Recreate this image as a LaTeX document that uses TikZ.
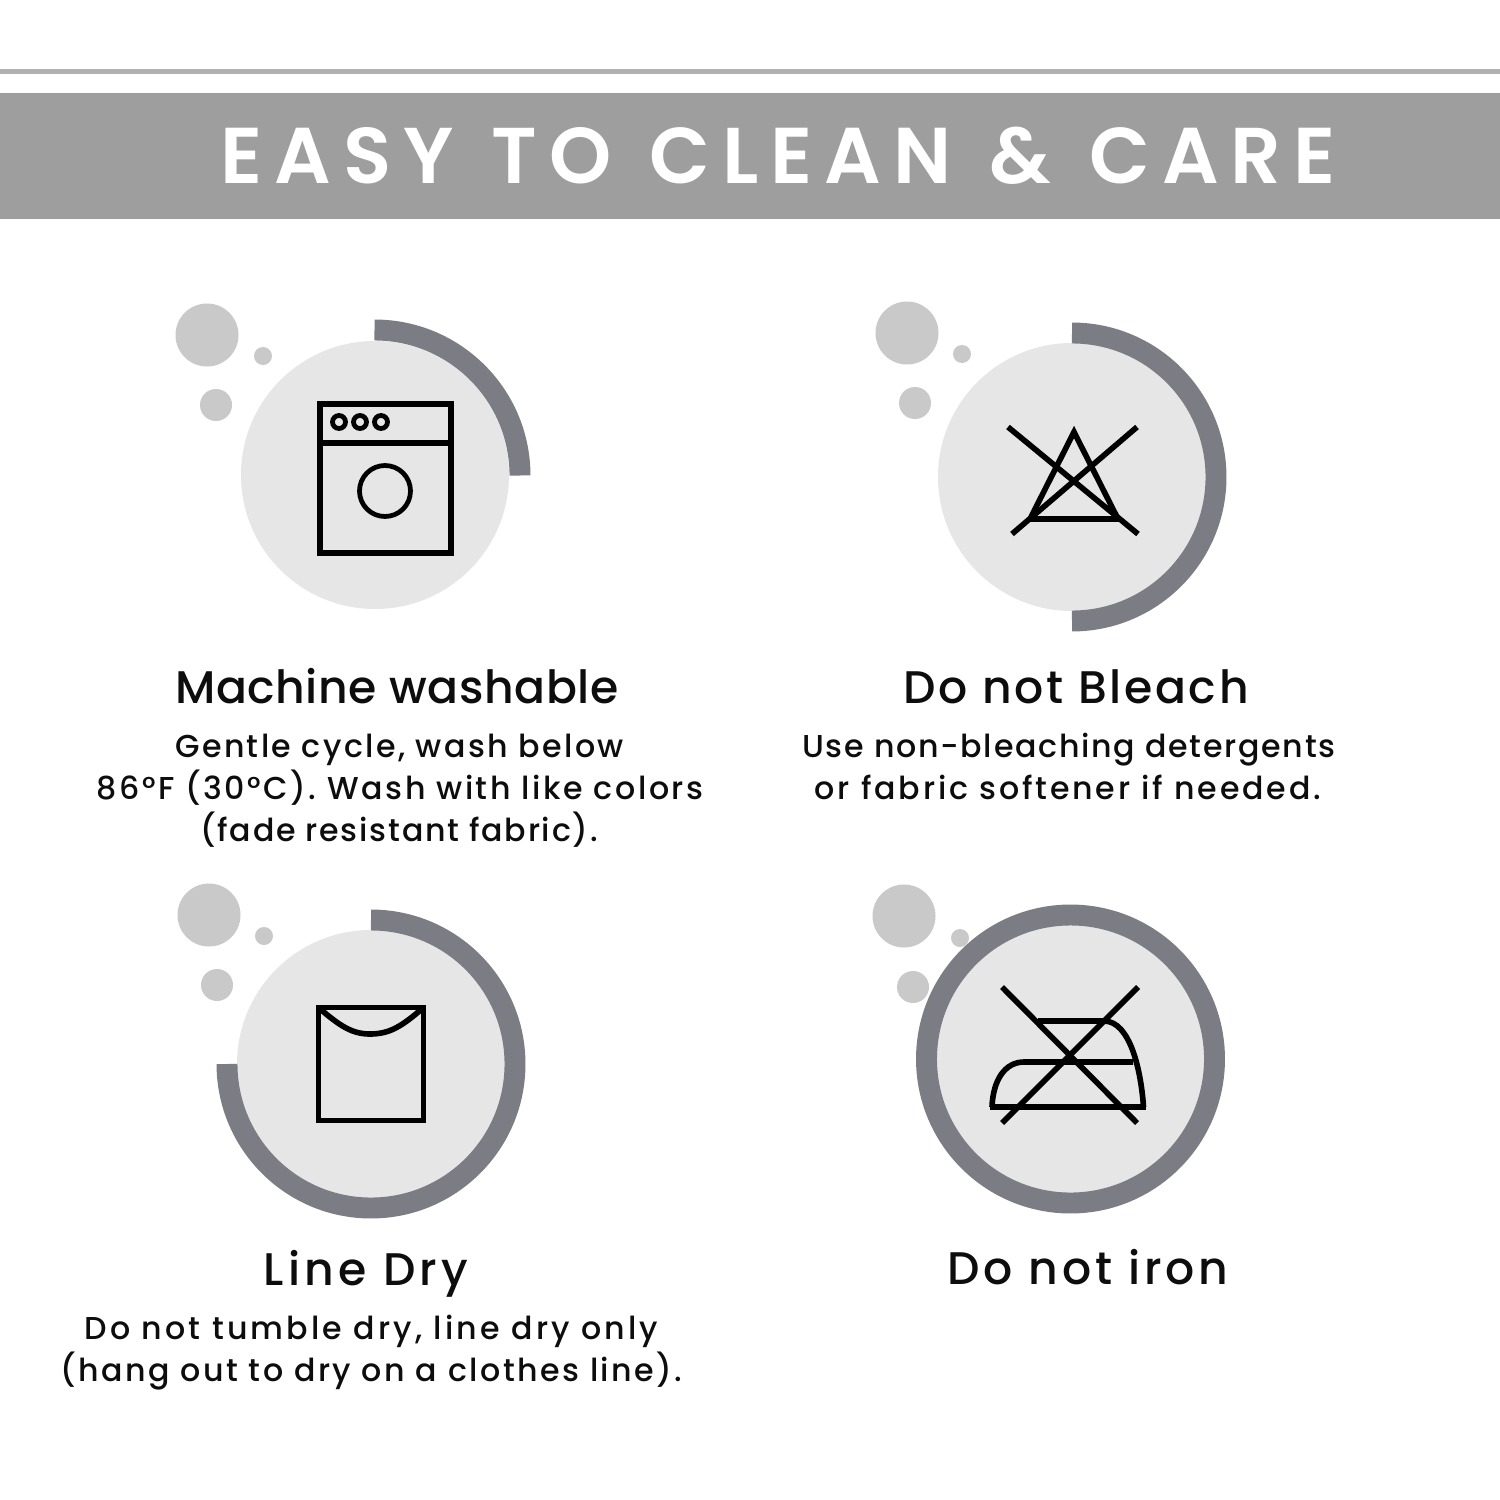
\documentclass[tikz,border=0pt]{standalone}
\usepackage{fontspec}
\setmainfont{Poppins}
\newcommand{\lsfont}[1]{\fontspec[LetterSpace=#1,Ligatures=NoCommon]{Poppins Medium}}
\newfontfamily\headfont[LetterSpace=15,WordSpace=1.25,Ligatures=NoCommon]{Poppins SemiBold}
\definecolor{band}{HTML}{9E9E9E}
\definecolor{rule}{HTML}{B0B0B0}
\definecolor{bubble}{HTML}{C9C9C9}
\definecolor{disc}{HTML}{E6E6E6}
\definecolor{ringc}{HTML}{7C7C84}
\definecolor{ink}{HTML}{0D0D0D}
\tikzset{
  heading/.style={anchor=base,inner sep=0pt,text=white,font=\headfont\fontsize{22.5pt}{26pt}\selectfont},
  titletext/.style={anchor=base,inner sep=0pt,text=ink,font=\lsfont{#1}\fontsize{13pt}{16pt}\selectfont},
  bodytext/.style={anchor=base,inner sep=0pt,text=ink,font=\lsfont{#1}\fontsize{9pt}{12pt}\selectfont},
  icon/.style={draw=black,line width=1.6pt,line join=miter},
  iconthin/.style={draw=black,line width=1.35pt},
  arcring/.style={draw=ringc,line width=21*0.2835pt},
}
\newcommand{\bubbles}[6]{%
  \fill[bubble] (#1,#2) circle[radius=31.5];
  \fill[bubble] (#3,#4) circle[radius=9];
  \fill[bubble] (#5,#6) circle[radius=16];}
\begin{document}
\begin{tikzpicture}[x=0.01cm,y=-0.01cm]
\useasboundingbox (0,0) rectangle (1500,1500);
\fill[white] (0,0) rectangle (1500,1500);
% header
\fill[rule] (0,69) rectangle (1500,74);
\fill[band] (0,93) rectangle (1500,219);
\node[heading] (head) at (778,183) {EASY TO CLEAN \& CARE};
% top left
\bubbles{207}{335}{263}{356}{216}{405}
\fill[disc] (375,475) circle[radius=134];
\draw[arcring] (374.5,330) arc[start angle=-90,end angle=0,radius=145.5];
% washing machine
\draw[icon,line width=1.8pt] (320,404) rectangle (451,553);
\draw[icon] (320,443) -- (451,443);
\foreach \k in {339,360,381}{\draw[iconthin] (\k,422) circle[radius=6.5];}
\draw[iconthin] (385,491) circle[radius=25.5];
\node[titletext=1.3] (t1) at (397,703) {Machine washable};
\node[bodytext=7.5] (b1a) at (399.5,757) {Gentle cycle, wash below};
\node[bodytext=8.1] (b1b) at (400,799) {86°F (30°C). Wash with like colors};
\node[bodytext=5.6] (b1c) at (399,841) {(fade resistant fabric).};
% top right
\bubbles{907}{333}{962}{354}{915}{403}
\fill[disc] (1072,477) circle[radius=134];
\draw[arcring] (1072,333) arc[start angle=-90,end angle=90,radius=144];
% bleach
\draw[icon,line join=miter] (1074,432) -- (1118,519) -- (1030,519) -- cycle;
\draw[icon] (1008,427) -- (1138,534);
\draw[icon] (1137,427) -- (1012,534);
\node[titletext=5.9] (t2) at (1076,703) {Do not Bleach};
\node[bodytext=5.5] (b2a) at (1069,757) {Use non-bleaching detergents};
\node[bodytext=9] (b2b) at (1068,799) {or fabric softener if needed.};
% bottom left
\bubbles{209}{915}{264}{936}{217}{985}
\fill[disc] (371,1064) circle[radius=134];
\draw[arcring] (371,920) arc[start angle=-90,end angle=180,radius=144];
% line dry
\draw[icon] (318.5,1007.5) rectangle (423.5,1120.5);
\draw[icon] (319,1008) .. controls (340,1026) and (352,1034) .. (370,1034) .. controls (390,1034) and (402,1026) .. (423,1008);
\node[titletext=9.5] (t3) at (366,1285) {Line Dry};
\node[bodytext=10] (b3a) at (371.5,1339) {Do not tumble dry, line dry only};
\node[bodytext=7.9] (b3b) at (371.5,1381) {(hang out to dry on a clothes line).};
% bottom right
\bubbles{904}{916}{960}{938}{913}{987}
\fill[disc] (1070.5,1059) circle[radius=134];
\draw[arcring] (1070.5,1059) circle[radius=144];
% iron
\draw[icon] (1143.5,1107) .. controls (1141,1070) and (1130,1021) .. (1104,1021) -- (1038,1021);
\draw[icon] (1133,1062) -- (1024,1062) .. controls (1005,1062) and (993,1080) .. (992,1107);
\draw[icon] (990,1107) -- (1146,1107);
\draw[icon] (1002,987) -- (1137,1123);
\draw[icon] (1138,987) -- (1002,1123);
\node[titletext=8.5] (t4) at (1088,1284) {Do not iron};
\end{tikzpicture}
\end{document}
